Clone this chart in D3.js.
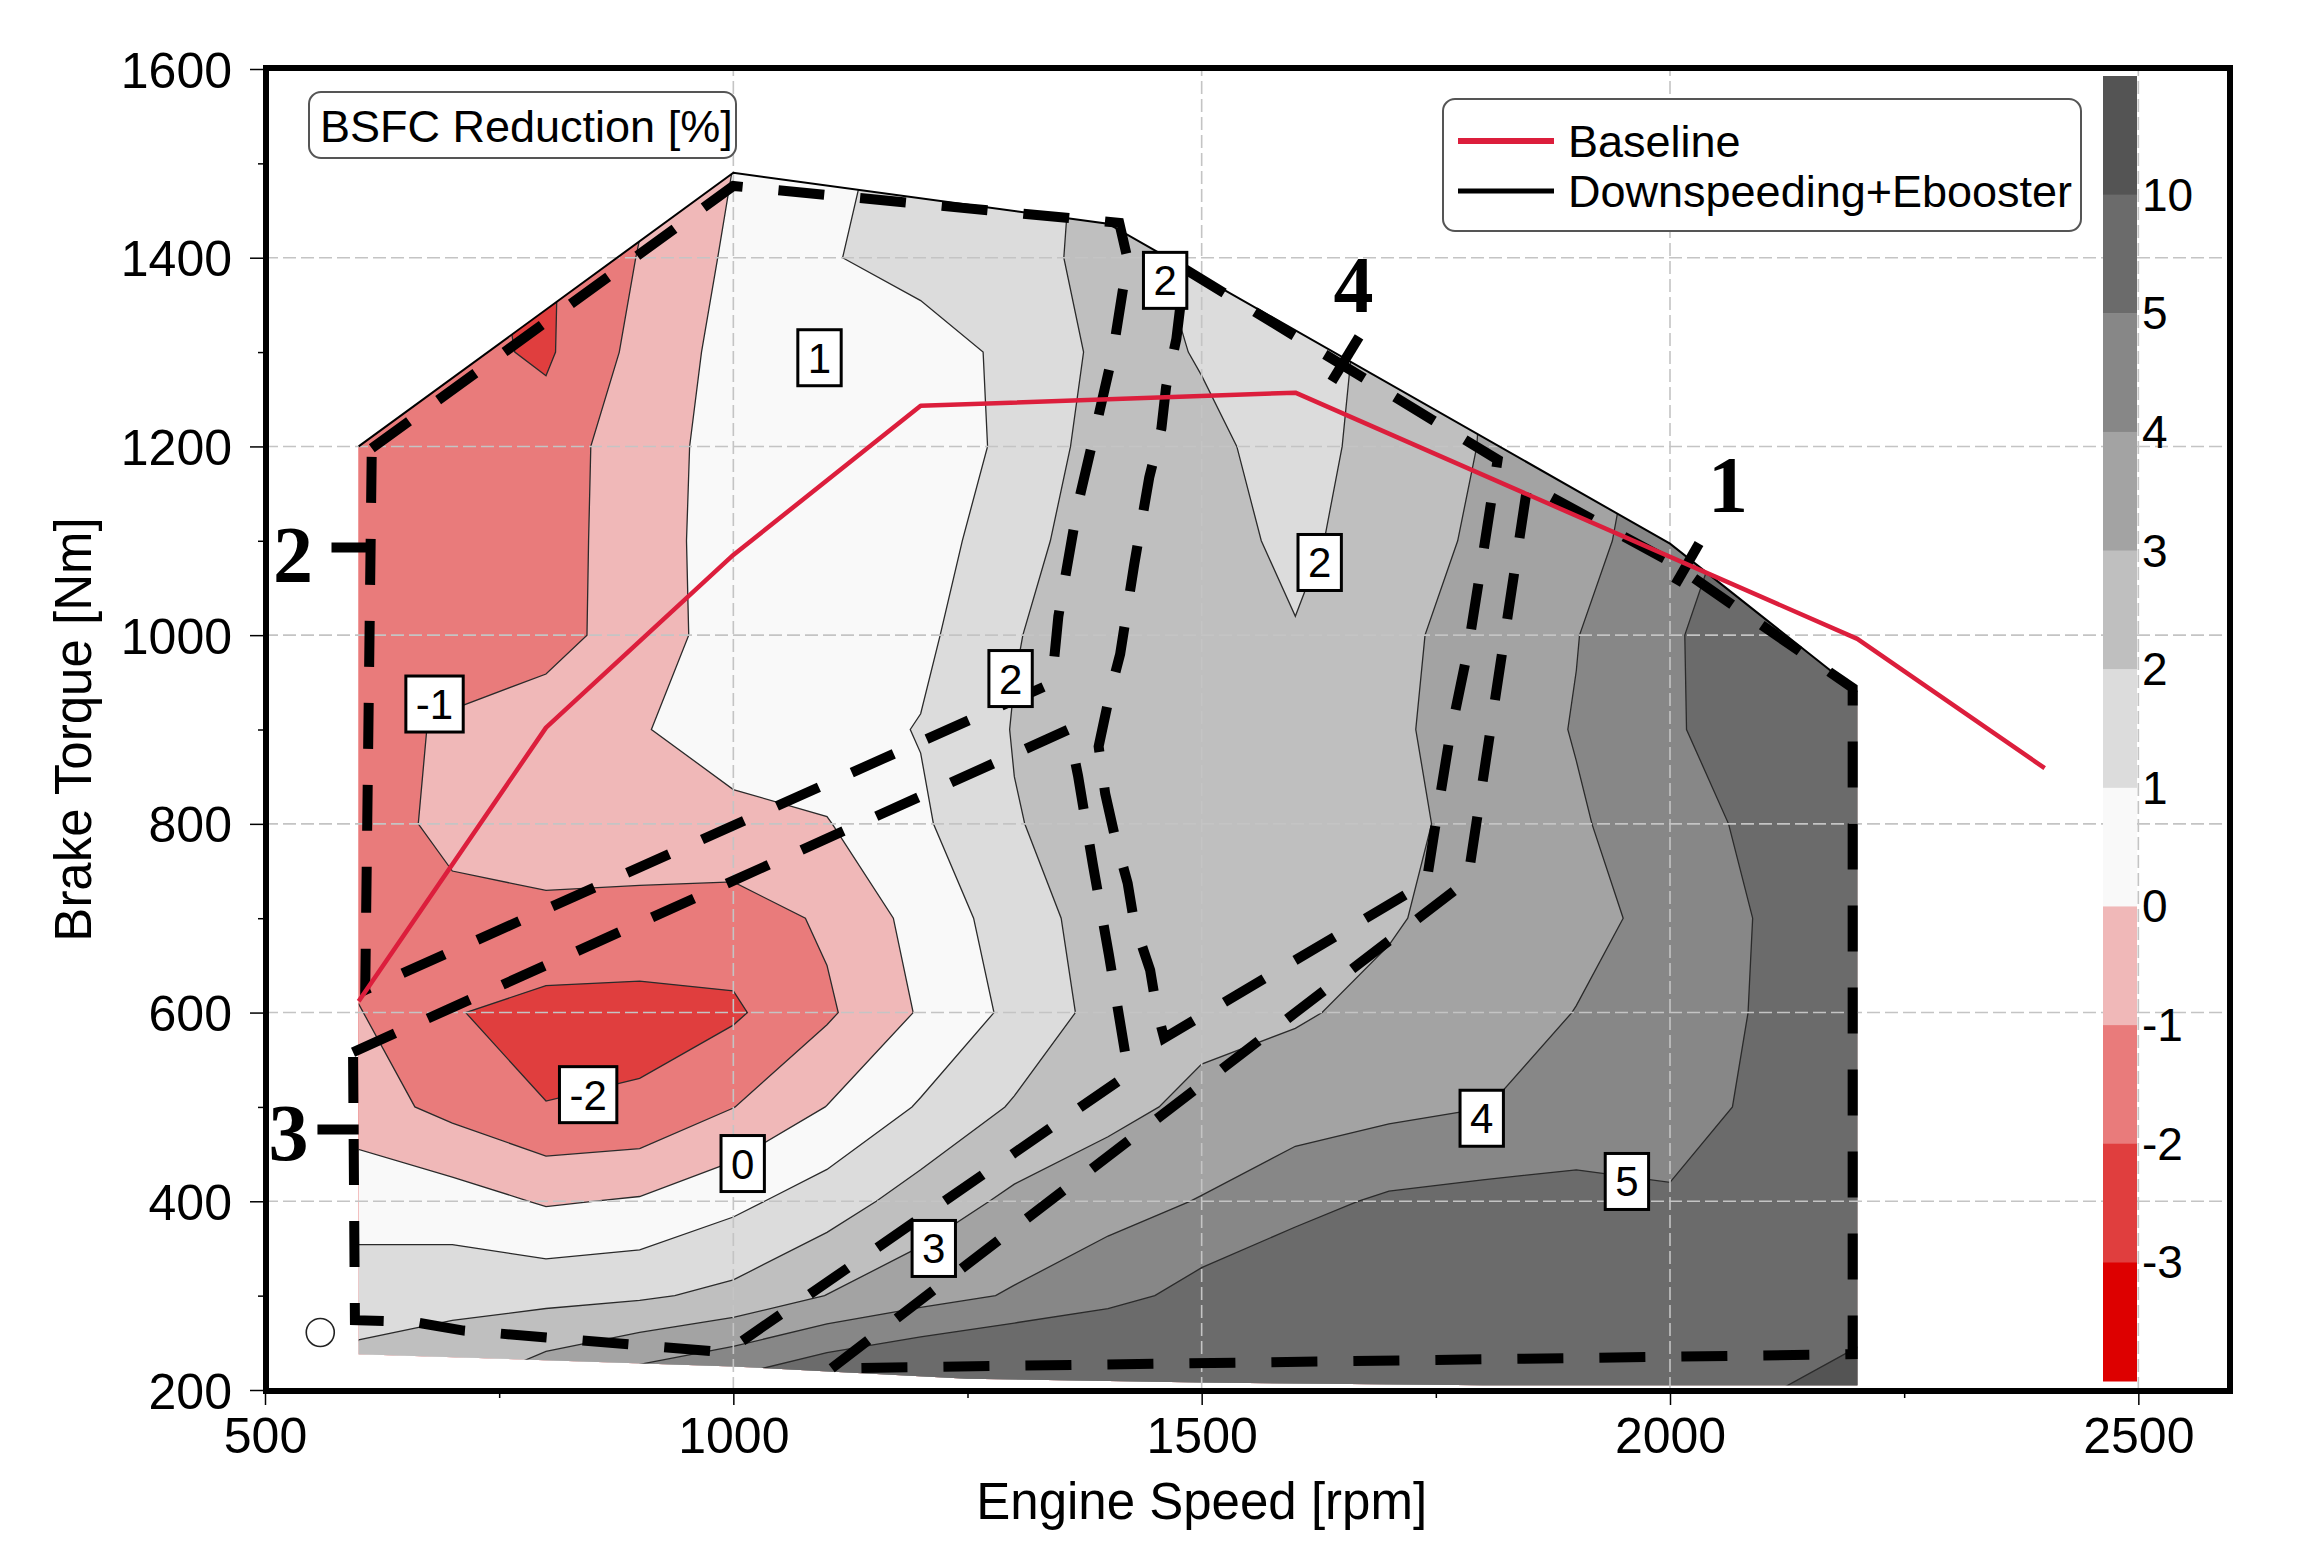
<!DOCTYPE html>
<html><head><meta charset="utf-8">
<script src="https://cdn.jsdelivr.net/npm/d3@7"></script>
<style>body{margin:0;background:#fff}</style>
</head><body>
<svg id="chart" width="2309" height="1560"></svg>
<script>
// ---------- data ----------
const speedGrid = [600,700,800,900,1000,1100,1200,1300,1400,1500,1600,1700,1800,1900,2000,2100,2200];
const torqueGrid = [200,300,400,500,600,700,800,900,1000,1100,1200,1300,1400,1500];
const bsfc = [
 [2.69,2.98,3.9,4.8,5.5,6.3,6.8,7.2,7.5,7.8,8.0,8.2,8.5,9.0,9.3,9.8,11.0],
 [1.39,1.65,1.7,1.85,2.25,3.02,3.6,4.1,4.6,5.4,5.8,6.2,6.5,6.8,7.0,7.5,8.8],
 [0.67,0.45,-0.1,0.1,0.75,1.5,2.45,3.2,3.65,4.05,4.7,5.15,5.3,5.35,5.1,5.9,6.5],
 [-0.55,-1.3,-1.98,-1.87,-1.02,0.02,1.1,2.1,2.7,3.25,3.5,3.75,3.98,4.3,4.6,5.2,6.2],
 [-0.95,-1.95,-2.3,-2.3,-2.15,-1.15,0.1,1.25,2.4,2.7,2.9,3.25,3.6,4.02,4.5,5.1,6.2],
 [-1.5,-1.2,-1.25,-1.4,-1.5,-0.85,0.35,1.5,2.5,2.6,2.65,2.9,3.4,3.75,4.25,5.1,6.0],
 [-1.35,-0.8,-0.4,-0.25,-0.2,-0.05,0.85,1.95,2.4,2.45,2.4,2.75,3.3,3.9,4.5,5.3,6.2],
 [-1.4,-0.85,-0.5,-0.05,0.35,0.6,1.05,2.05,2.4,2.3,2.15,2.8,3.5,4.05,4.85,5.7,6.5],
 [-1.5,-1.55,-1.35,-0.55,0.5,0.65,0.75,1.95,2.5,2.3,2.05,2.75,3.4,3.97,4.85,5.8,6.5],
 [-1.55,-1.6,-1.5,-0.4,0.4,0.6,0.6,1.5,2.8,2.35,1.8,2.45,3.2,3.75,4.4,5.6,6.5],
 [-1.6,-1.65,-1.55,-0.4,0.35,0.45,0.75,1.1,2.6,2.15,1.75,2.25,3.05,3.6,4.3,5.5,6.5],
 [-1.7,-1.7,-2.15,-0.68,0.35,0.85,0.7,1.15,2.3,1.95,1.7,2.2,3.0,3.6,4.3,5.5,6.5],
 [-1.8,-1.85,-2.15,-0.95,0.19,0.95,1.25,1.72,2.25,1.8,1.7,2.5,3.2,3.8,4.5,5.5,6.0],
 [-1.8,-1.9,-2.1,-1.2,0.0,0.8,1.3,1.7,2.2,1.9,1.8,2.5,3.2,3.8,4.5,5.5,6.0]
];
const levels = [-3,-2,-1,0,1,2,3,4,5,10];
const bandColors = ["#e03e3e","#e97b7b","#f0b8b8","#f9f9f9","#dcdcdc","#bfbfbf","#a3a3a3","#878787","#6b6b6b","#545454"];
const belowColor = "#dd0000";
const colorbarLabels = ["10","5","4","3","2","1","0","-1","-2","-3"];

// map outline (speed, torque)
const mapOutline = [[600,1200],[1000,1490],[1400,1436],[2000,1097],[2200,940],[2200,205],[1800,205],[1500,208],[1250,212],[1000,225],[600,238]];
const mapTopEdge = [[600,1200],[1000,1490],[1400,1436],[2000,1097],[2200,940]];

// baseline full-load curve
const baselineSpeed = [600,800,1000,1200,1600,2200,2400];
const baselineTorque = [612,902,1085,1243,1257,996,859];

// Downspeeding+Ebooster operating regions (dashed)
const region1 = [[1105,223],[1784,740],[1848,1160],[2000,1078],[2195,944],[2195,238],[1105,223]];
const region2 = [[614,1198],[1000,1476],[1412,1437],[1421,1398],[1405,1298],[1384,1207],[1368,1139],[1347,1020],[1340,949],[607,624],[614,1198]];
const region3 = [[594,558],[1358,900],[1368,851],[1384,756],[1401,661],[1422,535],[992,240],[712,263],[659,272],[596,274],[594,558]];
const region4 = [[1482,1388],[1816,1186],[1799,1077],[1784,983],[1764,887],[1749,795],[1740,738],[1460,573],[1452,603],[1445,645],[1428,695],[1421,737],[1407,788],[1397,832],[1390,882],[1402,938],[1413,980],[1428,1075],[1444,1167],[1457,1219],[1462,1263],[1473,1314],[1482,1388]];
const regions = [region1, region2, region3, region4];

// region numbers and their markers
const regionNames = ["2","3","4","1"];
const regionNameSpeed = [530,525,1662,2062];
const regionNameTorque = [1056,444,1342,1130];
const regionMarks = [[[571,1093],[616,1093]],[[556,476],[600,476]],[[1668,1316],[1639,1269]],[[2031,1097],[2006,1054]]];
const markerCircle = [559,261];

// contour labels
const contourLabelText = ["1","2","2","2","-1","-2","0","3","4","5"];
const contourLabelSpeed = [1092,1461,1626,1296,681,845,1010,1214,1799,1954];
const contourLabelTorque = [1294,1376,1077,954,927,513,440,350,488,421];

const xTicks = [500,1000,1500,2000,2500];
const xMinor = [750,1250,1750,2250];
const yTicks = [200,400,600,800,1000,1200,1400,1600];
const yMinor = [300,500,700,900,1100,1300,1500];

// ---------- drawing ----------
const FONT = "'Liberation Sans', Arial, sans-serif";
const SERIF = "'Liberation Serif', 'Times New Roman', serif";
const svg = d3.select("#chart");
svg.append("rect").attr("width",2309).attr("height",1560).attr("fill","#fff");

const x = d3.scaleLinear().domain([500,2600]).range([265,2232]);
const y = d3.scaleLinear().domain([200,1600]).range([1390,69]);
const line = d3.line().x(d=>x(d[0])).y(d=>y(d[1]));

svg.append("defs").append("clipPath").attr("id","mapClip")
  .append("path").attr("d", line(mapOutline)+"Z");

// contour fills
const gMap = svg.append("g").attr("clip-path","url(#mapClip)");
gMap.append("path").attr("d", line(mapOutline)+"Z").attr("fill", belowColor);
const nx = speedGrid.length, ny = torqueGrid.length;
const ds = speedGrid[1]-speedGrid[0], dt = torqueGrid[1]-torqueGrid[0];
const contours = d3.contours().size([nx,ny]).thresholds(levels)(bsfc.flat());
const proj = d3.geoTransform({point:function(gx,gy){
  this.stream.point(x(speedGrid[0]+(gx-0.5)*ds), y(torqueGrid[0]+(gy-0.5)*dt));
}});
const gp = d3.geoPath(proj);
gMap.selectAll("path.band").data(contours).join("path").attr("class","band")
  .attr("d",gp).attr("fill",(d,i)=>bandColors[i]);
gMap.selectAll("path.iso").data(contours).join("path").attr("class","iso")
  .attr("d",gp).attr("fill","none").attr("stroke","#2a2a2a").attr("stroke-width",1.3);

// grid lines
const gGrid = svg.append("g").attr("stroke","#c4c4c4").attr("stroke-width",1.6).attr("stroke-dasharray","13,5");
[1000,1500,2000,2500].forEach(v=>gGrid.append("line").attr("x1",x(v)).attr("x2",x(v)).attr("y1",y(200)).attr("y2",y(1600)));
[400,600,800,1000,1200,1400].forEach(v=>gGrid.append("line").attr("x1",x(500)).attr("x2",x(2600)).attr("y1",y(v)).attr("y2",y(v)));

// map top edge
svg.append("path").attr("d",line(mapTopEdge)).attr("fill","none").attr("stroke","#000").attr("stroke-width",2);

// dashed regions
svg.append("g").selectAll("path").data(regions).join("path")
  .attr("d",d=>line(d)).attr("fill","none").attr("stroke","#000")
  .attr("stroke-width",10).attr("stroke-dasharray","46,36").attr("stroke-linejoin","miter");

// region markers
svg.append("g").selectAll("path").data(regionMarks).join("path")
  .attr("d",d=>line(d)).attr("stroke","#000").attr("stroke-width",10).attr("fill","none");
svg.append("g").selectAll("text").data(regionNames).join("text")
  .attr("x",(d,i)=>x(regionNameSpeed[i])).attr("y",(d,i)=>y(regionNameTorque[i]))
  .attr("text-anchor","middle").attr("font-family",SERIF).attr("font-weight","bold")
  .attr("font-size",80).text(d=>d);
svg.append("circle").attr("cx",x(markerCircle[0])).attr("cy",y(markerCircle[1])).attr("r",14)
  .attr("fill","none").attr("stroke","#222").attr("stroke-width",1.6);

// baseline
svg.append("path").attr("d",line(baselineSpeed.map((s,i)=>[s,baselineTorque[i]])))
  .attr("fill","none").attr("stroke","#dc1e3c").attr("stroke-width",4.5).attr("stroke-linejoin","round");

// contour labels
const gLab = svg.append("g");
contourLabelText.forEach((t,i)=>{
  const cx = x(contourLabelSpeed[i]), cy = y(contourLabelTorque[i]);
  const g = gLab.append("g");
  const r = g.append("rect").attr("fill","#fff").attr("stroke","#000").attr("stroke-width",3);
  const tx = g.append("text").attr("x",cx).attr("y",cy+15).attr("text-anchor","middle")
    .attr("font-family",FONT).attr("font-size",42).text(t);
  const w = tx.node().getComputedTextLength() + 20;
  r.attr("x",cx-w/2).attr("y",cy-28).attr("width",w).attr("height",56);
});

// title box
svg.append("rect").attr("x",309).attr("y",92).attr("width",427).attr("height",66).attr("rx",12)
  .attr("fill","#fff").attr("stroke","#555").attr("stroke-width",2);
svg.append("text").attr("x",320).attr("y",142).attr("font-family",FONT).attr("font-size",45).text("BSFC Reduction [%]");

// legend
svg.append("rect").attr("x",1443).attr("y",99).attr("width",638).attr("height",132).attr("rx",12)
  .attr("fill","#fff").attr("stroke","#555").attr("stroke-width",2);
svg.append("line").attr("x1",1458).attr("x2",1554).attr("y1",141).attr("y2",141).attr("stroke","#dc1e3c").attr("stroke-width",6);
svg.append("line").attr("x1",1458).attr("x2",1554).attr("y1",191).attr("y2",191).attr("stroke","#000").attr("stroke-width",5);
svg.append("text").attr("x",1568).attr("y",157).attr("font-family",FONT).attr("font-size",45).text("Baseline");
svg.append("text").attr("x",1568).attr("y",207).attr("font-family",FONT).attr("font-size",45).text("Downspeeding+Ebooster");

// colorbar
const cbColors = bandColors.slice().reverse().concat([belowColor]);
const cb = d3.scaleLinear().domain([0,cbColors.length]).range([76,1381]);
svg.append("g").selectAll("rect").data(cbColors).join("rect")
  .attr("x",2103).attr("width",34).attr("y",(d,i)=>cb(i)).attr("height",(d,i)=>cb(i+1)-cb(i)+0.5).attr("fill",d=>d);
svg.append("g").selectAll("text").data(colorbarLabels).join("text")
  .attr("x",2142).attr("y",(d,i)=>cb(i+1)+16).attr("font-family",FONT).attr("font-size",46).text(d=>d);

// axes
const axB = svg.append("g").attr("transform",`translate(0,${y(200)})`)
  .call(d3.axisBottom(x).tickValues(xTicks).tickSize(15).tickFormat(d3.format("d")));
axB.select(".domain").remove();
axB.selectAll("line").attr("stroke","#000").attr("stroke-width",1.5);
axB.selectAll("text").attr("y",63).attr("dy",null).attr("font-family",FONT).attr("font-size",50).attr("fill","#000");
const axBm = svg.append("g").attr("transform",`translate(0,${y(200)})`)
  .call(d3.axisBottom(x).tickValues(xMinor).tickSize(8).tickFormat(""));
axBm.select(".domain").remove();
axBm.selectAll("line").attr("stroke","#000").attr("stroke-width",1.5);

const axL = svg.append("g").attr("transform",`translate(${x(500)},0)`)
  .call(d3.axisLeft(y).tickValues(yTicks).tickSize(15).tickPadding(18).tickFormat(d3.format("d")));
axL.select(".domain").remove();
axL.selectAll("line").attr("stroke","#000").attr("stroke-width",1.5);
axL.selectAll("text").attr("dy","0.36em").attr("font-family",FONT).attr("font-size",50).attr("fill","#000");
const axLm = svg.append("g").attr("transform",`translate(${x(500)},0)`)
  .call(d3.axisLeft(y).tickValues(yMinor).tickSize(7).tickFormat(""));
axLm.select(".domain").remove();
axLm.selectAll("line").attr("stroke","#000").attr("stroke-width",1.5);

// axis titles
svg.append("text").attr("x",x(1500)).attr("y",1519).attr("text-anchor","middle")
  .attr("font-family",FONT).attr("font-size",51).text("Engine Speed [rpm]");
svg.append("text").attr("transform",`translate(91,${y(900)}) rotate(-90)`).attr("text-anchor","middle")
  .attr("font-family",FONT).attr("font-size",51).text("Brake Torque [Nm]");

// frame
svg.append("rect").attr("x",266).attr("y",68).attr("width",1964).attr("height",1323)
  .attr("fill","none").attr("stroke","#000").attr("stroke-width",6);
</script>
</body></html>
